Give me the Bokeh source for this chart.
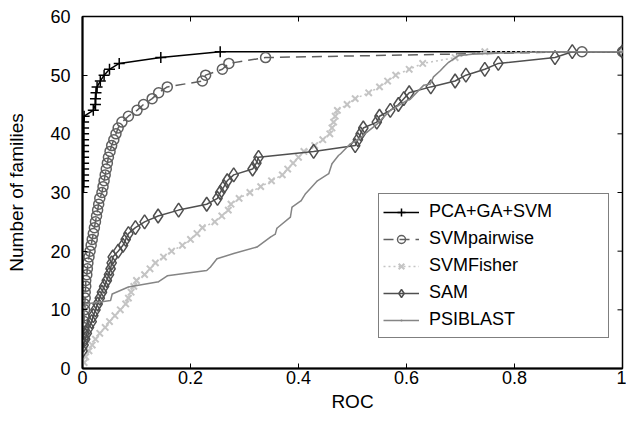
import math
from bokeh.plotting import figure
from bokeh.models import Range1d, FixedTicker, Legend, LegendItem
from bokeh.embed import file_html
from bokeh.resources import INLINE

# ---------------- data ----------------
x_ticks = [0, 0.2, 0.4, 0.6, 0.8, 1]
x_tick_labels = ["0", "0.2", "0.4", "0.6", "0.8", "1"]
y_ticks = [0, 10, 20, 30, 40, 50, 60]

pca_x = [0.002, 0.002, 0.002, 0.002, 0.002, 0.002, 0.002, 0.002, 0.002, 0.002, 0.002, 0.002,
         0.003, 0.02, 0.024, 0.024, 0.025, 0.027, 0.033, 0.04, 0.05, 0.068, 0.145, 0.255, 1.0]
pca_y = [31, 32, 33, 34, 35, 36, 37, 38, 39, 40, 41, 42,
         43, 44, 45, 46, 47, 48, 49, 50, 51, 52, 53, 54, 54]

pair_x = [0.001, 0.002, 0.002, 0.003, 0.003, 0.004, 0.004, 0.005, 0.005, 0.006, 0.006, 0.008,
          0.009, 0.010, 0.012, 0.014, 0.016, 0.018, 0.020, 0.022, 0.024, 0.026, 0.028, 0.030,
          0.032, 0.036, 0.038, 0.040, 0.042, 0.044, 0.046, 0.048, 0.051, 0.054, 0.058, 0.062,
          0.066, 0.073, 0.085, 0.101, 0.113, 0.129, 0.141, 0.157, 0.222, 0.228, 0.259, 0.271,
          0.339, 0.925, 1.0]
pair_y = [5, 6, 7, 8, 9, 10, 11, 12, 13, 14, 15, 16,
          17, 18, 19, 20, 21, 22, 23, 24, 25, 26, 27, 28,
          29, 30, 31, 32, 33, 34, 35, 36, 37, 38, 39, 40,
          41, 42, 43, 44, 45, 46, 47, 48, 49, 50, 51, 52,
          53, 54, 54]

fisher_x = [0.003, 0.006, 0.012, 0.018, 0.024, 0.032, 0.042, 0.05, 0.06, 0.07, 0.08, 0.085,
            0.09, 0.095, 0.1, 0.115, 0.125, 0.135, 0.15, 0.165, 0.185, 0.2, 0.212, 0.222,
            0.245, 0.258, 0.27, 0.275, 0.29, 0.31, 0.33, 0.35, 0.37, 0.38, 0.39, 0.4,
            0.41, 0.43, 0.445, 0.458, 0.462, 0.465, 0.468, 0.472, 0.49, 0.505, 0.53, 0.55,
            0.565, 0.58, 0.605, 0.63, 0.69, 0.745, 1.0]
fisher_y = [1, 2, 3, 4, 5, 6, 7, 8, 9, 10, 11, 12,
            13, 14, 15, 16, 17, 18, 19, 20, 21, 22, 23, 24,
            25, 26, 27, 28, 29, 30, 31, 32, 33, 34, 35, 36,
            37, 38, 39, 40, 41, 42, 43, 44, 45, 46, 47, 48,
            49, 50, 51, 52, 53, 54, 54]

sam_x = [0.0, 0.002, 0.005, 0.008, 0.012, 0.017, 0.02, 0.024, 0.028, 0.032, 0.036, 0.04,
         0.045, 0.049, 0.052, 0.054, 0.056, 0.066, 0.075, 0.08, 0.085, 0.098, 0.115, 0.14,
         0.178, 0.23, 0.25, 0.255, 0.262, 0.268, 0.28, 0.315, 0.322, 0.326, 0.428, 0.505,
         0.51, 0.515, 0.52, 0.545, 0.55, 0.57, 0.585, 0.595, 0.605, 0.645, 0.69, 0.71,
         0.745, 0.77, 0.875, 0.907, 1.0]
sam_y = [3, 4, 5, 6, 7, 8, 9, 10, 11, 12, 13, 14,
         15, 16, 17, 18, 19, 20, 21, 22, 23, 24, 25, 26,
         27, 28, 29, 30, 31, 32, 33, 34, 35, 36, 37, 38,
         39, 40, 41, 42, 43, 44, 45, 46, 47, 48, 49, 50,
         51, 52, 53, 54, 54]

psi_x = [0.0, 0.002, 0.006, 0.052, 0.055, 0.085, 0.141, 0.157, 0.23, 0.237, 0.249, 0.28,
         0.323, 0.348, 0.357, 0.36, 0.385, 0.388, 0.405, 0.413, 0.422, 0.435, 0.456, 0.462,
         0.474, 0.478, 0.496, 0.509, 0.527, 0.546, 0.552, 0.57, 0.576, 0.601, 0.607, 0.632,
         0.644, 0.65, 0.663, 0.669, 0.678, 0.696, 0.724, 0.854, 1.0]
psi_y = [7, 9, 11, 11.6, 12.7, 13.9, 14.8, 15.8, 16.7, 17.3, 18.7, 19.6,
         20.7, 22.4, 22.9, 23.9, 25.8, 27.5, 28.6, 29.8, 30.7, 32, 33.2, 34.9,
         36.3, 36.6, 38.3, 38.9, 40.3, 41.7, 42.3, 44, 44.3, 45.7, 45.9, 48.3,
         48.5, 49.7, 50.8, 51.4, 52.2, 53.3, 53.6, 54, 54]

labels = ["PCA+GA+SVM", "SVMpairwise", "SVMFisher", "SAM", "PSIBLAST"]

# ---------------- figure ----------------
FONT = "Liberation Sans"
x_lo, x_hi = x_ticks[0], x_ticks[-1]
y_lo, y_hi = y_ticks[0], y_ticks[-1]

p = figure(width=626, height=426, x_range=Range1d(x_lo, x_hi), y_range=Range1d(y_lo, y_hi),
           output_backend="svg", toolbar_location=None,
           min_border_left=82, min_border_right=4, min_border_top=16, min_border_bottom=58)
p.grid.visible = False
p.outline_line_color = "black"
p.outline_line_width = 1.5
p.background_fill_color = "white"
p.border_fill_color = "white"

overrides = {t: l for t, l in zip(x_ticks, x_tick_labels)}

for ax in p.xaxis:
    ax.ticker = FixedTicker(ticks=x_ticks)
    ax.major_label_overrides = overrides
    ax.axis_label = "ROC"
for ax in p.yaxis:
    ax.ticker = FixedTicker(ticks=y_ticks)
    ax.axis_label = "Number of families"

for ax in list(p.xaxis) + list(p.yaxis):
    ax.minor_tick_line_color = None
    ax.major_tick_in = 5
    ax.major_tick_out = 0
    ax.major_tick_line_color = "black"
    ax.axis_line_color = "black"
    ax.axis_line_width = 2
    ax.major_label_text_font = FONT
    ax.major_label_text_font_size = "18px"
    ax.major_label_text_color = "black"
    ax.axis_label_text_font = FONT
    ax.axis_label_text_font_size = "19px"
    ax.axis_label_text_font_style = "normal"
    ax.axis_label_text_color = "black"

p.xaxis.major_label_standoff = 2
p.xaxis.axis_label_standoff = 4
p.yaxis.major_label_standoff = 12
p.yaxis.axis_label_standoff = 20

# mirrored inward ticks on the top and right edges (half of each dash is clipped by the frame)
p.scatter(x_ticks[1:-1], [y_hi] * (len(x_ticks) - 2), marker="dash", size=10,
          angle=math.pi / 2, line_color="black", line_width=1)
p.scatter([x_hi] * (len(y_ticks) - 2), y_ticks[1:-1], marker="dash", size=10,
          line_color="black", line_width=1)

# ---------------- series ----------------
c_pca, c_pair, c_fis, c_sam, c_psi = "black", "#5f5f5f", "#c4c4c4", "#4f4f4f", "#858585"

l1 = p.line(pca_x, pca_y, line_color=c_pca, line_width=1.5)
m1 = p.scatter(pca_x, pca_y, marker="cross", size=11, line_color=c_pca, line_width=1.5)

l2 = p.line(pair_x, pair_y, line_color=c_pair, line_width=1.5, line_dash="10 6")
m2 = p.scatter(pair_x, pair_y, marker="circle", size=10, line_color=c_pair,
               fill_color=None, line_width=1.5)

l3 = p.line(fisher_x, fisher_y, line_color=c_fis, line_width=1.5, line_dash="2 3")
m3 = p.scatter(fisher_x, fisher_y, marker="x", size=9, line_color=c_fis, line_width=2)

l4 = p.line(sam_x, sam_y, line_color=c_sam, line_width=1.5)
m4 = p.scatter(sam_x, sam_y, marker="diamond", size=14, line_color=c_sam,
               fill_color=None, line_width=1.5)

l5 = p.line(psi_x, psi_y, line_color=c_psi, line_width=1.5)
m5 = p.scatter(psi_x, psi_y, marker="dot", size=4, line_color=c_psi)

items = [LegendItem(label=labels[0], renderers=[l1, m1]),
         LegendItem(label=labels[1], renderers=[l2, m2]),
         LegendItem(label=labels[2], renderers=[l3, m3]),
         LegendItem(label=labels[3], renderers=[l4, m4]),
         LegendItem(label=labels[4], renderers=[l5, m5])]

legend = Legend(items=items, location=(296, 30), orientation="vertical",
                label_text_font=FONT, label_text_font_size="18px", label_text_color="black",
                glyph_width=36, glyph_height=20, label_height=27, label_width=175,
                label_standoff=10, spacing=0, padding=4, margin=0,
                border_line_color="black", border_line_width=1,
                background_fill_color="white", background_fill_alpha=1)
p.add_layout(legend, "center")

open("out.html", "w").write(file_html(p, INLINE))
